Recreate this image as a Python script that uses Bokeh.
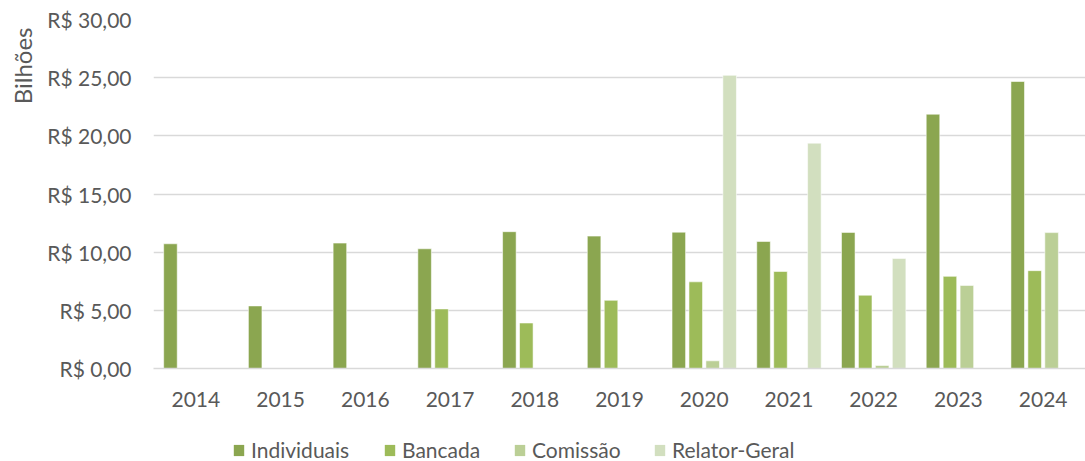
from bokeh.plotting import figure
from bokeh.layouts import column
from bokeh.models import (ColumnDataSource, FactorRange, Range1d, Legend, LegendItem,
                          Title, CustomJSTickFormatter, FixedTicker)
from bokeh.transform import dodge
from bokeh.embed import file_html
from bokeh.resources import INLINE

nan = float("nan")

years = ["2014", "2015", "2016", "2017", "2018", "2019", "2020", "2021", "2022", "2023", "2024"]
individuais = [10.72, 5.38, 10.78, 10.29, 11.76, 11.38, 11.72, 10.92, 11.70, 21.86, 24.67]
bancada = [nan, nan, nan, 5.12, 3.91, 5.86, 7.45, 8.34, 6.30, 7.92, 8.41]
comissao = [nan, nan, nan, nan, nan, nan, 0.66, nan, 0.26, 7.14, 11.68]
relator = [nan, nan, nan, nan, nan, nan, 25.20, 19.37, 9.46, nan, nan]

series_names = ["Individuais", "Bancada", "Comissão", "Relator-Geral"]
series_keys = ["individuais", "bancada", "comissao", "relator"]
colors = ["#8BA650", "#9DBB59", "#BBCF96", "#D2DFBF"]
y_ticks = [0, 5, 10, 15, 20, 25, 30]

FONT = "Lato"
TXT = "#595959"
GRID = "#D9D9D9"

source = ColumnDataSource(dict(year=years, individuais=individuais, bancada=bancada,
                               comissao=comissao, relator=relator))

p = figure(width=1085, height=423, x_range=FactorRange(*years, range_padding=0),
           y_range=Range1d(0, 30), output_backend="svg", toolbar_location=None,
           min_border_left=153, min_border_right=0, min_border_top=19, min_border_bottom=55)
p.outline_line_color = None
p.background_fill_color = "white"
p.border_fill_color = "white"

offsets = [-0.3, -0.1, 0.1, 0.3]
for key, off, col in zip(series_keys, offsets, colors):
    p.vbar(x=dodge("year", off, range=p.x_range), top=key, width=0.16, bottom=0,
           source=source, fill_color=col, line_color="white", line_alpha=0.55, line_width=1)

p.xgrid.grid_line_color = None
p.ygrid.grid_line_color = GRID
p.ygrid.grid_line_width = 1.5

p.yaxis.ticker = FixedTicker(ticks=y_ticks)
p.yaxis.formatter = CustomJSTickFormatter(code="return 'R$ ' + tick.toFixed(2).replace('.', ',');")
p.yaxis.axis_line_color = None
p.yaxis.major_tick_line_color = None
p.yaxis.minor_tick_line_color = None
p.yaxis.major_tick_out = 0
p.yaxis.major_tick_in = 0
p.yaxis.minor_tick_out = 0
p.yaxis.major_label_standoff = 22
p.yaxis.major_label_text_font = FONT
p.yaxis.major_label_text_font_size = "21px"
p.yaxis.major_label_text_color = TXT

p.xaxis.axis_line_color = GRID
p.xaxis.axis_line_width = 1.5
p.xaxis.major_tick_line_color = None
p.xaxis.minor_tick_line_color = None
p.xaxis.major_tick_out = 0
p.xaxis.major_tick_in = 0
p.xaxis.minor_tick_out = 0
p.xaxis.major_label_standoff = 23
p.xaxis.major_label_text_font = FONT
p.xaxis.major_label_text_font_size = "21px"
p.xaxis.major_label_text_color = TXT

p.add_layout(Title(text="Bilhões", align="right", vertical_align="top", offset=8, standoff=11,
                   text_font=FONT, text_font_size="24px", text_font_style="normal",
                   text_color=TXT), "left")

# legend strip (frames of the column's plots are aligned, so x is relative to the frame left)
lf = figure(width=1085, height=38, x_range=Range1d(0, 1), y_range=Range1d(0, 1),
            x_axis_type=None, y_axis_type=None, output_backend="svg", toolbar_location=None,
            min_border=0)
lf.outline_line_color = None
lf.grid.visible = False

legend_x = [79, 230, 360, 500]
for name, col, lx in zip(series_names, colors, legend_x):
    r = lf.vbar(x=[0.5], top=[nan], bottom=[0], width=0.1, fill_color=col, line_alpha=0)
    lg = Legend(items=[LegendItem(label=name, renderers=[r])], location=(lx, -1),
                glyph_width=13, glyph_height=14, label_standoff=6,
                padding=0, margin=0, border_line_color=None, background_fill_alpha=0,
                label_text_font=FONT, label_text_font_size="21px", label_text_color=TXT)
    lf.add_layout(lg, "center")

layout = column(p, lf, spacing=0)
open("out.html", "w").write(file_html(layout, INLINE))
